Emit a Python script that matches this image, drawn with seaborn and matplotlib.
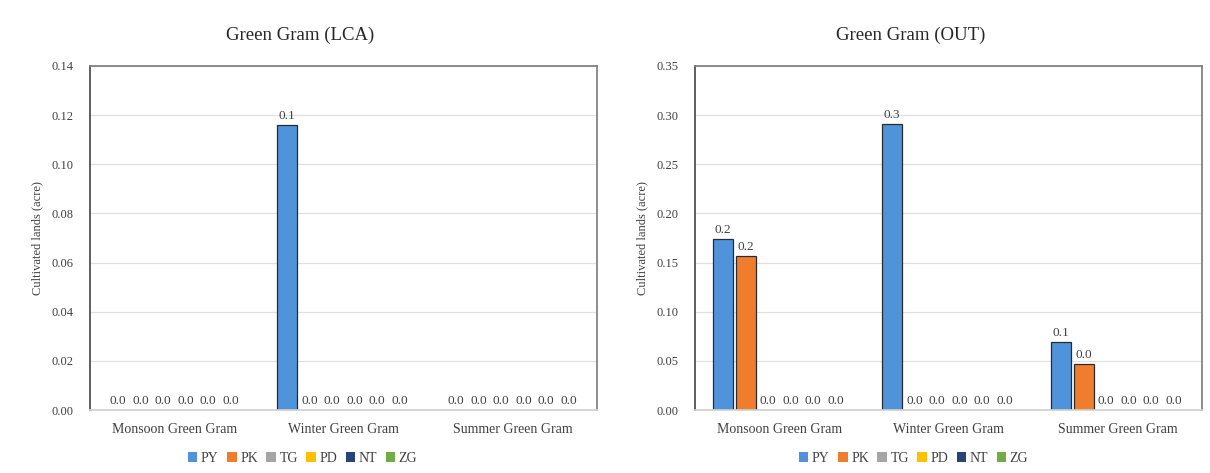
import numpy as np
import pandas as pd
import matplotlib
matplotlib.use("Agg")
import matplotlib.pyplot as plt
import seaborn as sns

seasons = ["Monsoon Green Gram", "Winter Green Gram", "Summer Green Gram"]
districts = ["PY", "PK", "TG", "PD", "NT", "ZG"]
colors = ["#4F93DA", "#F07C2E", "#A5A5A5", "#FFC000", "#264478", "#70AD47"]

# values[district] = [monsoon, winter, summer]
lca_values = {
    "PY": [0.0, 0.116, 0.0],
    "PK": [0.0, 0.0, 0.0],
    "TG": [0.0, 0.0, 0.0],
    "PD": [0.0, 0.0, 0.0],
    "NT": [0.0, 0.0, 0.0],
    "ZG": [0.0, 0.0, 0.0],
}
out_values = {
    "PY": [0.174, 0.291, 0.069],
    "PK": [0.157, 0.0, 0.047],
    "TG": [0.0, 0.0, 0.0],
    "PD": [0.0, 0.0, 0.0],
    "NT": [0.0, 0.0, 0.0],
    "ZG": [0.0, 0.0, 0.0],
}
lca_ticks = [0.00, 0.02, 0.04, 0.06, 0.08, 0.10, 0.12, 0.14]
out_ticks = [0.00, 0.05, 0.10, 0.15, 0.20, 0.25, 0.30, 0.35]


def to_df(vals):
    rows = []
    for d in districts:
        for s, v in zip(seasons, vals[d]):
            rows.append({"season": s, "district": d, "value": v})
    return pd.DataFrame(rows)


sns.set_theme(style="white")
plt.rcParams["font.family"] = ["Liberation Serif", "DejaVu Serif"]

fig = plt.figure(figsize=(12.1, 4.73), dpi=100)
W, H = 1210, 473
axL = fig.add_axes([90 / W, (H - 410) / H, 507 / W, 344 / H])
axR = fig.add_axes([695 / W, (H - 410) / H, 507 / W, 344 / H])

txt = "#404040"
for ax, vals, ticks, title, xc in [
    (axL, lca_values, lca_ticks, "Green Gram (LCA)", 0.25),
    (axR, out_values, out_ticks, "Green Gram (OUT)", 0.755),
]:
    df = to_df(vals)
    sns.barplot(data=df, x="season", y="value", hue="district",
                hue_order=districts, order=seasons, palette=colors,
                saturation=1, width=0.8, gap=0.12, edgecolor="#2b2b2b",
                linewidth=0.9, errorbar=None, ax=ax)
    for p in ax.patches:
        if p.get_height() == 0:
            p.set_linewidth(0)
    for c in ax.containers:
        ax.bar_label(c, fmt="%.1f", padding=2, fontsize=9.5, color=txt)
    ax.set_ylim(ticks[0], ticks[-1])
    ax.set_yticks(ticks)
    ax.set_yticklabels([f"{t:.2f}" for t in ticks], fontsize=9, color=txt)
    ax.set_xlim(-0.5, 2.5)
    ax.tick_params(axis="x", labelsize=10, colors=txt, length=0, pad=9)
    ax.tick_params(axis="y", length=0, pad=12)
    ax.set_xlabel("")
    ax.set_ylabel("Cultivated lands (acre)", fontsize=9, color=txt, labelpad=6)
    ax.grid(axis="y", color="#e0e0e0", linewidth=0.9)
    ax.set_axisbelow(True)
    ax.spines["left"].set_color("#333333")
    ax.spines["left"].set_linewidth(1.1)
    ax.spines["top"].set_color("#7f7f7f")
    ax.spines["right"].set_color("#7f7f7f")
    ax.spines["bottom"].set_color("#d0d0d0")
    for s in ax.spines.values():
        s.set_visible(True)
    handles, labels = ax.get_legend_handles_labels()
    ax.get_legend().remove()
    fig.legend(handles, labels, loc="center", bbox_to_anchor=(xc, (H - 458) / H),
               ncol=6, frameon=False, fontsize=10, handlelength=0.7,
               handleheight=0.7, columnspacing=0.6, handletextpad=0.25,
               labelcolor=txt)
    fig.text(xc - 0.002, (H - 35) / H, title, ha="center", va="center",
             fontsize=13.5, color="#262626")

fig.savefig("out.png", dpi=100, facecolor="white")
